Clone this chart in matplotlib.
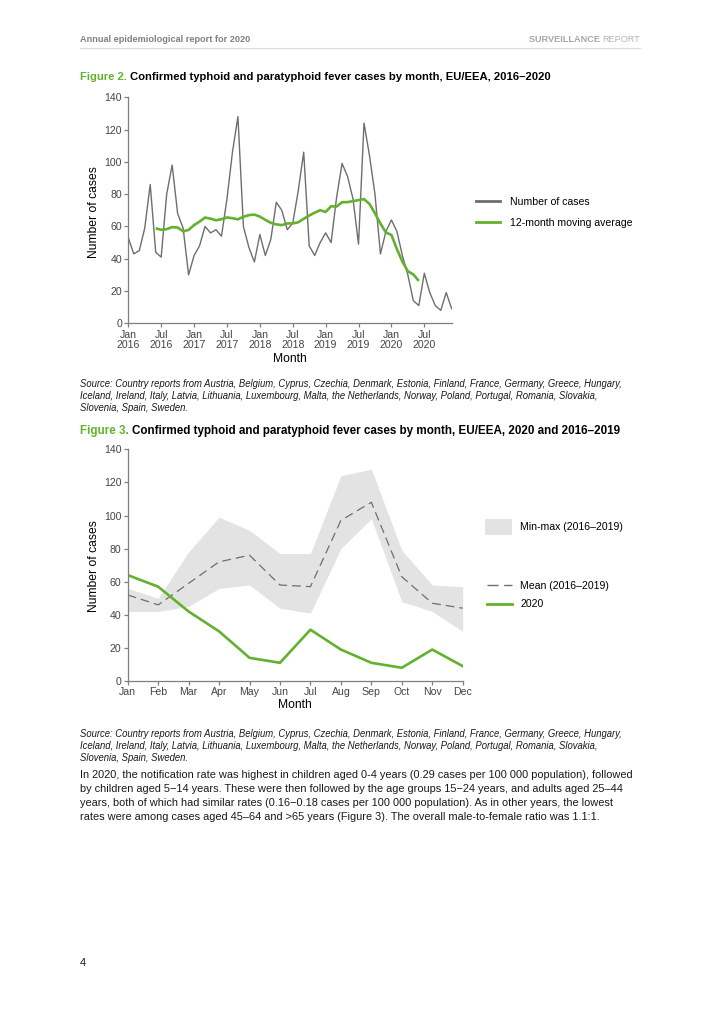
import matplotlib
matplotlib.use('Agg')
import matplotlib.pyplot as plt
import numpy as np
from matplotlib.patches import Patch
from matplotlib.lines import Line2D

plt.rcParams['font.family'] = ['Liberation Sans', 'DejaVu Sans']

W, H = 724, 1024

# Figure 2 - confirmed cases per month, Jan 2016 - Dec 2020
cases_2016 = [53, 43, 45, 59, 86, 44, 41, 80, 98, 68, 59, 30]
cases_2017 = [42, 48, 60, 56, 58, 54, 77, 106, 128, 60, 47, 38]
cases_2018 = [55, 42, 52, 75, 70, 58, 62, 82, 106, 48, 42, 50]
cases_2019 = [56, 50, 78, 99, 91, 77, 49, 124, 104, 80, 43, 57]
cases_2020 = [64, 57, 42, 30, 14, 11, 31, 19, 11, 8, 19, 9]
monthly_cases = cases_2016 + cases_2017 + cases_2018 + cases_2019 + cases_2020

fig2_ticks = list(range(0, 60, 6))
fig2_tick_labels = ['Jan\n2016', 'Jul\n2016', 'Jan\n2017', 'Jul\n2017', 'Jan\n2018',
                    'Jul\n2018', 'Jan\n2019', 'Jul\n2019', 'Jan\n2020', 'Jul\n2020']

# Figure 3 - 2020 against 2016-2019
month_labels = ['Jan', 'Feb', 'Mar', 'Apr', 'May', 'Jun',
                'Jul', 'Aug', 'Sep', 'Oct', 'Nov', 'Dec']
mean_1619 = [52, 46, 59, 72, 76, 58, 57, 97, 108, 63, 47, 44]
min_1619 = [42, 42, 45, 56, 58, 44, 41, 80, 98, 48, 42, 30]
max_1619 = [56, 50, 78, 99, 91, 77, 77, 124, 128, 79, 58, 57]

source_lines = [
    'Source: Country reports from Austria, Belgium, Cyprus, Czechia, Denmark, Estonia, Finland, France, Germany, Greece, Hungary,',
    'Iceland, Ireland, Italy, Latvia, Lithuania, Luxembourg, Malta, the Netherlands, Norway, Poland, Portugal, Romania, Slovakia,',
    'Slovenia, Spain, Sweden.',
]
body_lines = [
    'In 2020, the notification rate was highest in children aged 0-4 years (0.29 cases per 100 000 population), followed',
    'by children aged 5\u221214 years. These were then followed by the age groups 15\u221224 years, and adults aged 25\u201344',
    'years, both of which had similar rates (0.16\u22120.18 cases per 100 000 population). As in other years, the lowest',
    'rates were among cases aged 45\u201364 and >65 years (Figure 3). The overall male-to-female ratio was 1.1:1.',
]

GREEN = '#62b22f'
GREY = '#6e6e6e'
BAND = '#e3e3e3'
AXIS = '#7f7f7f'
TICKTXT = '#454545'


def fx(px):
    return px / W


def fy(py):
    return 1 - py / H


fig = plt.figure(figsize=(7.24, 10.24), dpi=100)
fig.patch.set_facecolor('white')
renderer = fig.canvas.get_renderer()


def fit_size(s, width, **kw):
    t = fig.text(0, 0, s, fontsize=10, **kw)
    w = t.get_window_extent(renderer).width
    t.remove()
    return 10 * width / w


def two_part(x, y, a, b, width, col_a, col_b, **kw):
    size = fit_size(a + b, width, **kw)
    t = fig.text(fx(x), fy(y), a, fontsize=size, color=col_a, va='center', **kw)
    wa = t.get_window_extent(renderer).width
    fig.text(fx(x + wa), fy(y), b, fontsize=size, color=col_b, va='center', **kw)


def style_axes(ax):
    for s in ['top', 'right']:
        ax.spines[s].set_visible(False)
    for s in ['left', 'bottom']:
        ax.spines[s].set_color(AXIS)
        ax.spines[s].set_linewidth(0.9)
    ax.tick_params(length=3, width=0.9, color=AXIS, labelcolor=TICKTXT,
                   labelsize=7.6, pad=1.5)
    ax.set_ylim(0, 140)
    ax.set_yticks(range(0, 141, 20))
    ax.patch.set_alpha(0)


# header
hsize = fit_size('Annual epidemiological report for 2020', 170, fontweight='bold')
fig.text(fx(80), fy(40), 'Annual epidemiological report for 2020', fontsize=hsize,
         fontweight='bold', color='#808080', va='center')
r = fig.text(fx(640), fy(40), 'REPORT', fontsize=hsize, color='#b5b5b5',
             va='center', ha='right')
rw = r.get_window_extent(renderer).width
fig.text(fx(640 - rw), fy(40), 'SURVEILLANCE ', fontsize=hsize, fontweight='bold',
         color='#a8a8a8', va='center', ha='right')
fig.add_artist(Line2D([fx(80), fx(640)], [fy(48), fy(48)], color='#dcdcdc', lw=0.8))

# titles
two_part(80, 77, 'Figure 2. ',
         'Confirmed typhoid and paratyphoid fever cases by month, EU/EEA, 2016\u20132020',
         468, GREEN, 'black', fontweight='bold')
two_part(80, 431, 'Figure 3. ',
         'Confirmed typhoid and paratyphoid fever cases by month, EU/EEA, 2020 and 2016\u20132019',
         540, GREEN, 'black', fontweight='bold')

# Figure 2 chart
ax1 = fig.add_axes([fx(128.3), fy(323.3), 323.4 / W, 226 / H])
months = np.arange(len(monthly_cases))
ma_x = np.arange(5, 54)
ma = [np.mean(monthly_cases[i - 5:i + 7]) for i in ma_x]
ax1.plot(months, monthly_cases, color=GREY, lw=1.0)
ax1.plot(ma_x, ma, color=GREEN, lw=1.9, solid_capstyle='butt')
style_axes(ax1)
ax1.set_xlim(0, 59)
ax1.set_xticks(fig2_ticks)
ax1.set_xticklabels(fig2_tick_labels, linespacing=1.1)
fig.text(fx(94), fy(212), 'Number of cases', rotation=90, fontsize=8.7,
         ha='center', va='center')
fig.text(fx(290), fy(359), 'Month', fontsize=8.7, ha='center', va='center')
fig.legend(handles=[Line2D([], [], color=GREY, lw=2.0),
                    Line2D([], [], color=GREEN, lw=2.0)],
           labels=['Number of cases', '12-month moving average'],
           loc='upper left', bbox_to_anchor=(fx(476), fy(197)), frameon=False,
           fontsize=7.6, handlelength=2.3, handletextpad=0.95, labelspacing=1.0,
           borderpad=0, borderaxespad=0)

# Figure 3 chart
ax2 = fig.add_axes([fx(127.7), fy(681), 335 / W, 231.7 / H])
m = np.arange(12)
ax2.fill_between(m, min_1619, max_1619, color=BAND, lw=0)
ax2.plot(m, mean_1619, color=GREY, lw=0.9, dashes=(7, 4))
ax2.plot(m, cases_2020, color=GREEN, lw=1.9)
style_axes(ax2)
ax2.set_xlim(0, 11)
ax2.set_xticks(m)
ax2.set_xticklabels(month_labels)
fig.text(fx(94), fy(566), 'Number of cases', rotation=90, fontsize=8.7,
         ha='center', va='center')
fig.text(fx(295), fy(705), 'Month', fontsize=8.7, ha='center', va='center')
fig.legend(handles=[Patch(facecolor=BAND, edgecolor='none')],
           labels=['Min-max (2016\u20132019)'],
           loc='upper left', bbox_to_anchor=(fx(485), fy(519)), frameon=False,
           fontsize=7.6, handlelength=2.6, handleheight=1.9, handletextpad=0.75,
           borderpad=0, borderaxespad=0)
fig.legend(handles=[Line2D([], [], color=GREY, lw=1.0, dashes=(8, 4)),
                    Line2D([], [], color=GREEN, lw=2.0)],
           labels=['Mean (2016\u20132019)', '2020'],
           loc='upper left', bbox_to_anchor=(fx(487), fy(581)), frameon=False,
           fontsize=7.6, handlelength=2.4, handletextpad=0.77, labelspacing=0.8,
           borderpad=0, borderaxespad=0)

# source notes
ssize = fit_size(source_lines[0], 548, style='italic')
for i, line in enumerate(source_lines):
    fig.text(fx(80), fy(384 + 12 * i), line, fontsize=ssize, style='italic',
             color='#1a1a1a', va='center')
    fig.text(fx(80), fy(734 + 12 * i), line, fontsize=ssize, style='italic',
             color='#1a1a1a', va='center')

# body text
bsize = fit_size(body_lines[0], 557)
for i, line in enumerate(body_lines):
    fig.text(fx(80), fy(775 + 14 * i), line, fontsize=bsize, color='#1a1a1a',
             va='center')

fig.text(fx(80), fy(963), '4', fontsize=8, color='#1a1a1a', va='center')

fig.savefig('out.png', dpi=100, facecolor='white')
